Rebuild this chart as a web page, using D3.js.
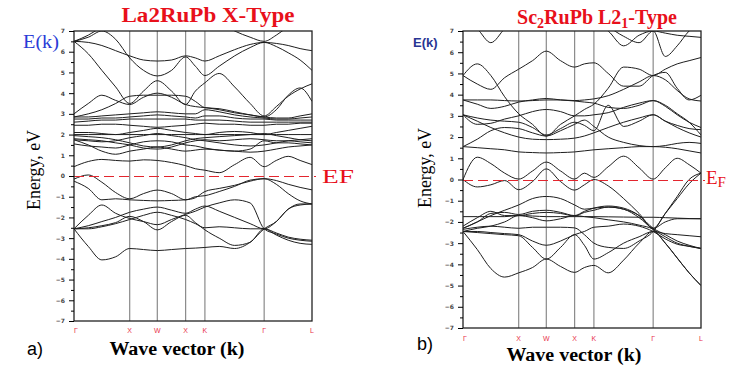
<!DOCTYPE html>
<html>
<head>
<meta charset="utf-8">
<script src="https://cdn.jsdelivr.net/npm/d3@7"></script>
<style>
  body { margin: 0; background: #fff; }
  svg { display: block; }
  .tick text { font-family: "DejaVu Sans", sans-serif; font-size: 6px; fill: #444; font-weight: bold; }
  .tick line, .domain { stroke: #000; }
</style>
</head>
<body>
<div id="chart"></div>
<script>
const width = 736
const height = 370

// k positions (fraction of path) where energies are sampled
const kSamples = [0, 0.06, 0.117, 0.175, 0.234, 0.292, 0.35, 0.41, 0.469, 0.51, 0.55, 0.61, 0.675, 0.74, 0.799, 0.85, 0.90, 0.95, 1]

// high symmetry points
const kTicks = [0, 0.234, 0.35, 0.469, 0.55, 0.799, 1]
const kLabels = ["Γ", "X", "W", "X", "K", "Γ", "L"]

const energyTicks = [-7, -6, -5, -4, -3, -2, -1, 0, 1, 2, 3, 4, 5, 6, 7]

// La2RuPb X-Type bands (eV at kSamples)
const bandsLa = [
  [6.5, 6.8, 7.2, 7.6, 7.6, 7.6, 7.6, 7.6, 7.6, 7.6, 7.6, 7.4, 7.0, 6.7, 6.5, 6.8, 7.2, 7.5, 7.6],
  [6.5, 6.45, 6.3, 6.05, 5.8, 5.6, 5.55, 5.6, 5.8, 5.7, 5.55, 5.8, 6.1, 6.35, 6.45, 6.4, 6.3, 6.15, 6.05],
  [6.5, 6.7, 7.0, 6.6, 5.7, 5.1, 4.83, 5.1, 5.75, 5.3, 4.85, 5.3, 5.8, 6.2, 6.45, 6.25, 5.95, 5.6, 5.1],
  [6.5, 5.9, 5.1, 4.3, 3.5, 4.1, 4.6, 4.1, 3.45, 4.1, 4.5, 4.95, 4.3, 3.5, 2.9, 3.35, 3.85, 4.2, 4.45],
  [3.0, 3.5, 3.9, 3.65, 3.45, 3.8, 4.0, 3.8, 3.45, 3.35, 3.3, 3.2, 3.05, 2.95, 2.85, 3.2, 3.9, 4.25, 3.6],
  [2.85, 3.0, 3.2, 3.5, 3.85, 3.9, 3.9, 3.9, 3.85, 3.6, 3.3, 3.25, 3.1, 2.95, 2.85, 2.8, 2.8, 2.9, 3.0],
  [2.85, 2.85, 2.9, 2.95, 3.0, 3.05, 3.1, 3.05, 3.0, 3.0, 3.2, 3.1, 2.95, 2.85, 2.8, 2.75, 2.75, 2.8, 2.85],
  [2.75, 2.75, 2.8, 2.8, 2.85, 2.9, 2.95, 2.9, 2.85, 2.8, 2.9, 2.9, 2.8, 2.75, 2.75, 2.7, 2.7, 2.7, 2.7],
  [2.6, 2.65, 2.7, 2.7, 2.75, 2.75, 2.75, 2.75, 2.75, 2.7, 2.7, 2.7, 2.65, 2.6, 2.6, 2.6, 2.6, 2.6, 2.6],
  [2.45, 2.45, 2.5, 2.5, 2.45, 2.4, 2.35, 2.4, 2.45, 2.5, 2.55, 2.5, 2.5, 2.45, 2.45, 2.5, 2.5, 2.55, 2.55],
  [2.1, 2.1, 2.05, 2.0, 2.1, 2.2, 2.3, 2.2, 2.1, 2.05, 2.0, 2.1, 2.15, 2.1, 2.0, 2.1, 2.2, 2.3, 2.4],
  [2.0, 2.0, 2.0, 2.0, 2.0, 2.0, 2.0, 2.0, 2.0, 2.0, 2.0, 2.0, 2.0, 2.0, 2.0, 2.0, 2.0, 2.0, 2.0],
  [1.95, 1.9, 1.85, 1.75, 1.6, 1.45, 1.4, 1.5, 1.7, 1.8, 1.85, 1.9, 1.95, 2.0, 2.05, 1.95, 1.85, 1.75, 1.7],
  [1.8, 1.75, 1.7, 1.6, 1.5, 1.35, 1.3, 1.4, 1.6, 1.7, 1.75, 1.7, 1.75, 1.8, 1.75, 1.7, 1.7, 1.65, 1.6],
  [1.75, 1.7, 1.65, 1.7, 1.85, 1.95, 2.05, 1.95, 1.85, 1.75, 1.7, 1.6, 1.5, 1.45, 1.5, 1.6, 1.7, 1.75, 1.8],
  [1.75, 1.5, 1.2, 1.05, 1.2, 1.3, 1.4, 1.3, 1.2, 1.25, 1.3, 1.25, 1.2, 1.3, 1.7, 1.6, 1.6, 1.55, 1.5],
  [1.55, 1.45, 1.4, 1.35, 1.5, 1.65, 1.7, 1.65, 1.5, 1.45, 1.35, 1.25, 1.2, 1.15, 1.2, 1.3, 1.4, 1.45, 1.5],
  [0.45, 0.7, 0.8, 0.75, 0.72, 0.78, 0.75, 0.65, 0.5, 0.35, 0.28, 0.16, 0.55, 0.9, 0.45, 0.75, 0.95, 0.75, 0.55],
  [-0.15, 0.05, -0.3, -0.8, -1.1, -0.85, -0.68, -0.85, -1.15, -1.0, -0.95, -0.75, -0.5, -0.2, -0.13, -0.22, -0.4, -0.55, -0.67],
  [-0.25, -0.6, -1.15, -1.1, -1.15, -1.18, -1.2, -1.18, -1.15, -1.05, -0.75, -0.6, -0.45, -0.25, -0.13, -0.4, -0.85, -1.2, -1.35],
  [-2.55, -1.9, -1.4, -1.8, -2.05, -2.2, -2.35, -2.1, -1.85, -1.7, -1.5, -1.3, -1.15, -1.3, -2.55, -2.8, -3.0, -3.1, -3.15],
  [-2.55, -2.4, -2.2, -2.0, -1.75, -1.6, -1.5, -1.65, -1.8, -1.6, -1.45, -1.7, -2.0, -2.3, -2.55, -2.2, -1.6, -1.35, -1.35],
  [-2.55, -2.55, -2.45, -2.3, -2.1, -1.9, -1.75, -1.9, -2.1, -2.3, -2.5, -2.45, -2.5, -2.55, -2.55, -2.85, -3.1, -3.25, -3.3],
  [-2.55, -2.5, -2.4, -2.25, -1.95, -2.2, -2.6, -2.2, -1.9, -2.25, -2.6, -3.0, -3.35, -3.2, -2.55, -2.75, -2.95, -3.05, -3.1],
  [-2.55, -3.4, -4.05, -3.9, -3.5, -3.55, -3.6, -3.55, -3.5, -3.48, -3.45, -3.4, -3.5, -3.2, -2.55, -2.2, -1.6, -1.4, -1.35]
]

// Sc2RuPb L21-Type bands (eV at kSamples)
const bandsSc = [
  [7.6, 7.1, 6.45, 7.1, 7.6, 7.6, 7.6, 7.6, 7.6, 7.6, 7.4, 7.0, 6.3, 6.8, 7.0, 5.8, 6.3, 7.0, 7.4],
  [7.6, 7.6, 7.6, 7.6, 7.6, 7.6, 7.6, 7.6, 7.6, 7.6, 7.6, 7.2, 6.75, 6.45, 7.0, 6.9, 6.8, 6.75, 6.7],
  [4.9, 5.45, 4.9, 3.9, 3.1, 2.6, 2.05, 2.6, 3.0, 3.3, 3.55, 4.3, 5.3, 5.2, 4.9, 5.2, 5.45, 5.6, 5.75],
  [4.9, 4.5, 4.25, 4.8, 5.2, 5.6, 6.05, 5.6, 5.3, 5.45, 5.5, 5.0, 4.4, 4.4, 4.9, 5.05, 4.3, 3.75, 3.97],
  [3.75, 3.75, 3.75, 3.72, 3.7, 3.72, 3.75, 3.75, 3.72, 3.75, 3.8, 3.95, 4.25, 4.6, 4.9, 4.7, 4.2, 3.8, 3.7],
  [3.75, 3.55, 3.35, 3.45, 3.65, 3.75, 3.82, 3.75, 3.7, 3.65, 3.6, 3.4, 3.35, 3.5, 3.72, 3.45, 3.05, 2.7, 2.45],
  [3.05, 2.75, 2.45, 2.2, 2.0, 1.9, 1.88, 1.9, 1.95, 2.05, 2.2, 2.45, 2.7, 2.9, 3.05, 2.75, 2.45, 2.2, 2.0],
  [3.05, 2.9, 2.8, 2.75, 2.7, 2.45, 2.1, 2.4, 2.7, 2.55, 2.3, 3.5, 2.5, 2.75, 3.05, 2.75, 2.55, 2.4, 2.35],
  [3.05, 2.6, 2.65, 2.85, 3.0, 3.2, 3.3, 3.2, 3.0, 3.0, 3.05, 3.15, 3.4, 3.6, 3.72, 3.5, 3.1, 2.7, 2.1],
  [1.55, 1.9, 2.3, 2.45, 2.4, 2.2, 2.05, 2.3, 2.6, 2.8, 2.5, 2.0, 1.75, 1.6, 1.55, 1.6, 1.7, 1.75, 1.7],
  [1.55, 1.5, 1.45, 1.4, 1.3, 1.27, 1.25, 1.27, 1.3, 1.35, 1.4, 1.45, 1.5, 1.55, 1.55, 1.52, 1.45, 1.35, 1.25],
  [0.0, 1.05, 0.75, 0.3, 0.02, 0.4, 0.82, 0.4, 0.02, 0.3, 0.1, 0.6, 1.1, 0.55, 0.02, 0.55, 1.0, 0.7, 0.3],
  [0.0, -0.35, -0.25, -0.05, -0.48, -0.1, 0.5, -0.1, -0.5, -0.25, 0.0, -0.3, -0.9, -1.6, -2.3, -1.6, -0.9, -0.2, 0.3],
  [-2.3, -2.0, -1.7, -1.45, -1.2, -0.9, -0.8, -0.9, -1.2, -1.4, -1.35, -1.3, -1.4, -1.7, -2.3, -2.6, -2.9, -3.1, -3.25],
  [-1.75, -1.75, -1.75, -1.75, -1.7, -1.72, -1.75, -1.75, -1.75, -1.75, -1.75, -1.76, -1.77, -1.78, -1.78, -1.8, -1.82, -1.84, -1.85],
  [-2.3, -2.0, -1.6, -1.55, -1.65, -1.5, -1.45, -1.55, -1.7, -1.5, -1.35, -1.25, -1.35, -1.7, -2.3, -2.0, -1.85, -1.85, -1.85],
  [-2.2, -1.8, -1.5, -1.7, -1.7, -1.6, -1.55, -1.6, -1.72, -1.55, -1.45, -1.3, -1.4, -1.8, -2.35, -2.7, -3.0, -3.15, -3.25],
  [-2.45, -2.3, -2.2, -2.0, -1.7, -1.8, -1.95, -1.85, -1.7, -1.75, -1.8, -1.9, -2.0, -2.15, -2.35, -3.0, -3.7, -4.4, -5.0],
  [-2.45, -2.45, -2.5, -2.55, -2.6, -2.9, -3.1, -2.9, -2.6, -2.45, -2.25, -2.2, -2.1, -2.2, -2.45, -2.8, -3.05, -3.15, -3.25],
  [-2.35, -2.25, -2.2, -2.25, -2.3, -2.25, -2.25, -2.25, -2.28, -2.6, -3.0, -3.2, -3.25, -2.9, -2.45, -1.6, -0.8, 0.0, 0.3],
  [-2.45, -3.3, -4.2, -4.6, -4.4, -4.15, -3.75, -4.1, -4.38, -4.15, -4.05, -4.4, -3.8, -3.0, -2.45, -3.0, -3.7, -4.4, -5.0],
  [-2.45, -2.5, -2.55, -2.6, -2.65, -3.2, -3.75, -3.2, -2.6, -3.1, -3.75, -3.45, -3.0, -2.7, -2.45, -2.55, -2.6, -2.65, -2.7]
]

const svg = d3.select("#chart")
              .append("svg")
                .attr("width", width)
                .attr("height", height)

const serif = "'Liberation Serif', 'DejaVu Serif', serif"
const sans = "'Liberation Sans', Arial, sans-serif"

// --- draw one band structure panel ---
const drawPanel = (p) => {
  const xScale = d3.scaleLinear().domain([0, 1]).range([p.x0, p.x1])
  const yScale = d3.scaleLinear().domain([-7, 7]).range([p.y1, p.y0])

  const g = svg.append("g")

  g.append("clipPath")
    .attr("id", `clip-${p.id}`)
    .append("rect")
      .attr("x", p.x0).attr("y", p.y0)
      .attr("width", p.x1 - p.x0).attr("height", p.y1 - p.y0)

  // symmetry lines
  g.selectAll(".sym")
    .data(kTicks.slice(1, -1))
    .join("line")
      .attr("x1", d => xScale(d)).attr("x2", d => xScale(d))
      .attr("y1", p.y0).attr("y2", p.y1)
      .attr("stroke", "#8a8a8a")
      .attr("stroke-width", 1.2)

  // bands
  const line = d3.line()
                 .x((d, i) => xScale(kSamples[i]))
                 .y(d => yScale(d))
                 .curve(d3.curveMonotoneX)

  g.append("g")
    .attr("clip-path", `url(#clip-${p.id})`)
    .selectAll("path")
    .data(p.bands)
    .join("path")
      .attr("fill", "none")
      .attr("stroke", "#1e1e1e")
      .attr("stroke-width", 1)
      .attr("d", line)

  // Fermi level (snapped to the pixel grid so it stays crisp and red)
  const yF = Math.round(yScale(0)) + 0.5
  g.append("line")
    .attr("x1", p.x0).attr("x2", p.x1 + 4)
    .attr("y1", yF).attr("y2", yF)
    .attr("stroke", "#e3262e")
    .attr("stroke-width", 1.2)
    .attr("stroke-dasharray", "10,5")

  // frame
  g.append("rect")
    .attr("x", p.x0).attr("y", p.y0)
    .attr("width", p.x1 - p.x0).attr("height", p.y1 - p.y0)
    .attr("fill", "none")
    .attr("stroke", "#222")
    .attr("stroke-width", 1.3)

  // y axis: major and minor ticks
  g.append("g")
    .attr("transform", `translate(${p.x0}, 0)`)
    .call(d3.axisLeft(yScale).tickValues(energyTicks).tickSize(5).tickPadding(4).tickFormat(d3.format("d")))
    .call(a => a.select(".domain").remove())
  g.append("g")
    .attr("transform", `translate(${p.x0}, 0)`)
    .call(d3.axisLeft(yScale).tickValues(energyTicks.slice(0, -1).map(d => d + 0.5)).tickSize(3).tickFormat(""))
    .call(a => a.select(".domain").remove())

  // k labels
  g.selectAll(".klab")
    .data(kTicks)
    .join("text")
      .attr("x", (d, i) => xScale(d) + (i === 0 ? 2 : 0))
      .attr("y", p.kLabelY)
      .attr("text-anchor", "middle")
      .attr("font-family", sans)
      .attr("font-size", 7)
      .attr("fill", "#e8304a")
      .text((d, i) => kLabels[i])

  // axis titles
  g.append("text")
    .attr("transform", `translate(${p.yTitleX}, ${p.yTitleY}) rotate(-90)`)
    .attr("text-anchor", "middle")
    .attr("font-family", serif)
    .attr("font-size", 19)
    .attr("textLength", 80)
    .attr("lengthAdjust", "spacingAndGlyphs")
    .text("Energy, eV")

  g.append("text")
    .attr("x", p.xTitleX).attr("y", p.xTitleY)
    .attr("text-anchor", "middle")
    .attr("font-family", serif)
    .attr("font-weight", "bold")
    .attr("font-size", 18)
    .attr("textLength", 135)
    .attr("lengthAdjust", "spacingAndGlyphs")
    .text("Wave vector (k)")

  return yScale
}

// --- left panel ---
const yLa = drawPanel({ id: "la", x0: 74, x1: 312, y0: 31, y1: 321, bands: bandsLa,
  kLabelY: 333, yTitleX: 40, yTitleY: 170, xTitleX: 177, xTitleY: 355 })

svg.append("text")
  .attr("x", 208).attr("y", 22)
  .attr("text-anchor", "middle")
  .attr("font-family", serif).attr("font-weight", "bold").attr("font-size", 20)
  .attr("textLength", 173)
  .attr("lengthAdjust", "spacingAndGlyphs")
  .attr("fill", "#e8101a")
  .text("La2RuPb X-Type")

svg.append("text")
  .attr("x", 23).attr("y", 48)
  .attr("font-family", serif).attr("font-size", 18)
  .attr("textLength", 36)
  .attr("lengthAdjust", "spacingAndGlyphs")
  .attr("fill", "#2a3bd6")
  .text("E(k)")

svg.append("text")
  .attr("x", 322).attr("y", 183)
  .attr("font-family", serif).attr("font-size", 19)
  .attr("textLength", 32)
  .attr("lengthAdjust", "spacingAndGlyphs")
  .attr("fill", "#e8101a")
  .text("EF")

svg.append("text")
  .attr("x", 27).attr("y", 355)
  .attr("font-family", sans).attr("font-size", 18)
  .text("a)")

// --- right panel ---
const ySc = drawPanel({ id: "sc", x0: 463, x1: 701, y0: 31, y1: 328, bands: bandsSc,
  kLabelY: 341, yTitleX: 431, yTitleY: 168, xTitleX: 574, xTitleY: 361 })

const scTitle = svg.append("text")
  .attr("x", 597).attr("y", 24)
  .attr("text-anchor", "middle")
  .attr("font-family", serif).attr("font-weight", "bold").attr("font-size", 20)
  .attr("fill", "#e8101a")
scTitle.append("tspan").text("Sc")
scTitle.append("tspan").attr("font-size", 14).attr("dy", 4).text("2")
scTitle.append("tspan").attr("dy", -4).text("RuPb L2")
scTitle.append("tspan").attr("font-size", 14).attr("dy", 4).text("1")
scTitle.append("tspan").attr("dy", -4).text("-Type")

svg.append("text")
  .attr("x", 413).attr("y", 47)
  .attr("font-family", sans).attr("font-weight", "bold").attr("font-size", 13)
  .attr("fill", "#283593")
  .text("E(k)")

const efRight = svg.append("text")
  .attr("x", 706).attr("y", 184)
  .attr("font-family", serif).attr("font-size", 19)
  .attr("fill", "#e8101a")
efRight.append("tspan").text("E")
efRight.append("tspan").attr("font-size", 15).attr("dy", 3).text("F")

svg.append("text")
  .attr("x", 417).attr("y", 350)
  .attr("font-family", sans).attr("font-size", 18)
  .text("b)")
</script>
</body>
</html>
